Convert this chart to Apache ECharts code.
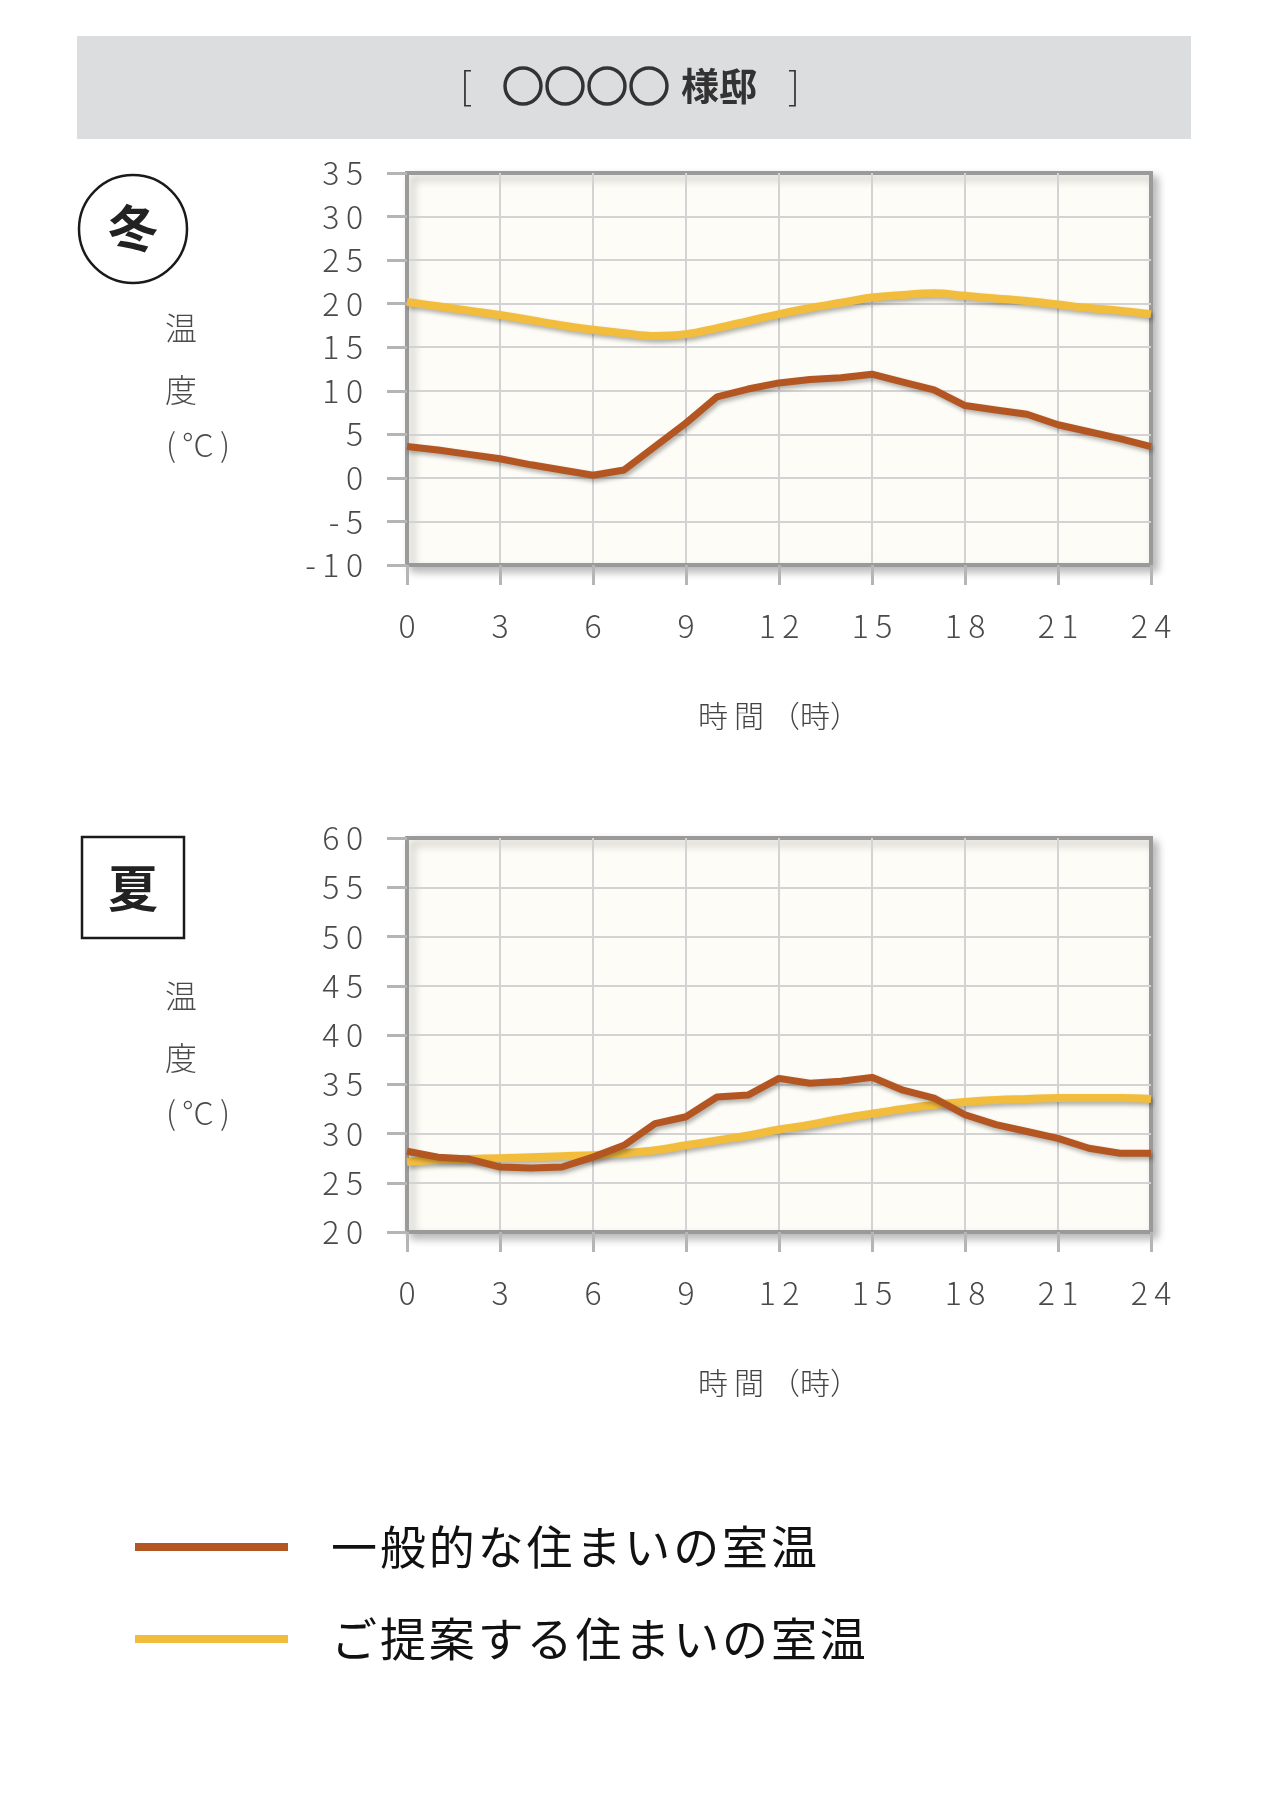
<!DOCTYPE html>
<html>
<head>
<meta charset="utf-8">
<script src="https://cdn.jsdelivr.net/npm/echarts@6/dist/echarts.min.js"></script>
<style>
html,body{margin:0;padding:0;background:#fff;}
#chart{width:1268px;height:1800px;}
</style>
</head>
<body>
<div id="chart"></div>
<script>
// ---- data ----
const hours = [0,1,2,3,4,5,6,7,8,9,10,11,12,13,14,15,16,17,18,19,20,21,22,23,24];
const seriesNames = ['一般的な住まいの室温', 'ご提案する住まいの室温'];
const winterGeneral = [3.6,3.2,2.7,2.2,1.5,0.9,0.3,0.9,3.6,6.3,9.3,10.2,10.9,11.3,11.5,11.9,11.0,10.1,8.3,7.8,7.3,6.1,5.3,4.5,3.6];
const winterProposed = [20.2,19.7,19.2,18.7,18.1,17.5,17.0,16.6,16.3,16.5,17.2,18.0,18.8,19.5,20.1,20.7,21.0,21.2,20.9,20.6,20.3,19.9,19.5,19.2,18.8];
const summerGeneral = [28.2,27.6,27.4,26.6,26.5,26.6,27.6,28.8,31.0,31.7,33.7,33.9,35.6,35.1,35.3,35.7,34.4,33.6,31.9,30.9,30.2,29.5,28.5,28.0,28.0];
const summerProposed = [27.1,27.3,27.4,27.5,27.6,27.7,27.8,28.0,28.3,28.8,29.3,29.8,30.4,30.9,31.5,32.0,32.5,32.9,33.2,33.4,33.5,33.6,33.6,33.6,33.5];
const xTicks = {min: 0, max: 24, interval: 3};
const winterTicks = {min: -10, max: 35, interval: 5};
const summerTicks = {min: 20, max: 60, interval: 5};
const titleText = ['[', '○○○○', '様邸', ']'];
const seasonLabels = ['冬', '夏'];
const yAxisTitle = ['温', '度', '(\u2009°C\u2009)'];
const xAxisTitle = '時\u2009間\u2009（時）';

// ---- styling ----
const FONT = '"Noto Sans CJK JP", "Noto Sans", sans-serif';
const BROWN = '#b35622';
const YELLOW = '#f2bd3c';
const spaced = (s, sp) => String(s).split('').join(sp);
const pairs = vals => hours.map((h, i) => [h, vals[i]]);

function makeX(idx) {
  return {
    type: 'value', gridIndex: idx,
    min: xTicks.min, max: xTicks.max, interval: xTicks.interval,
    name: xAxisTitle, nameLocation: 'middle', nameGap: 136,
    nameTextStyle: {fontFamily: FONT, fontSize: 30, fontWeight: 300, color: '#444'},
    axisLine: {show: true, onZero: false, lineStyle: {color: '#9a9a9a', width: 4}},
    axisTick: {show: true, inside: false, length: 20, lineStyle: {color: '#b5b5b5', width: 3}},
    axisLabel: {show: true, margin: 45, fontFamily: FONT, fontSize: 32, fontWeight: 300, color: '#4a4a4a',
      formatter: v => spaced(v, '\u2009'), showMinLabel: true, showMaxLabel: true},
    splitLine: {show: true, showMinLine: false, showMaxLine: false, lineStyle: {color: '#d3d3d3', width: 2}}
  };
}
function makeY(idx, t) {
  return {
    type: 'value', gridIndex: idx,
    min: t.min, max: t.max, interval: t.interval,
    axisLine: {show: true, onZero: false, lineStyle: {color: '#9a9a9a', width: 4}},
    axisTick: {show: true, inside: false, length: 20, lineStyle: {color: '#b5b5b5', width: 3}},
    axisLabel: {show: true, margin: 44, fontFamily: FONT, fontSize: 32, fontWeight: 300, color: '#4a4a4a',
      formatter: v => spaced(v, '\u2009'), showMinLabel: true, showMaxLabel: true},
    splitLine: {show: true, showMinLine: false, showMaxLine: false, lineStyle: {color: '#d3d3d3', width: 2}}
  };
}
function makeSeries(name, vals, idx, color, smooth, width) {
  return {
    name: name, type: 'line', xAxisIndex: idx, yAxisIndex: idx,
    data: pairs(vals), symbol: 'none', showSymbol: false, smooth: smooth,
    color: color, itemStyle: {color: color},
    lineStyle: {color: color, width: width, shadowColor: 'rgba(0,0,0,0.3)', shadowBlur: 4, shadowOffsetX: 2, shadowOffsetY: 3},
    emphasis: {disabled: true}, animation: false
  };
}
const gridCommon = {
  show: true, backgroundColor: '#fdfcf6', borderColor: '#9a9a9a', borderWidth: 4,
  shadowColor: 'rgba(0,0,0,0.25)', shadowBlur: 8, shadowOffsetX: 5, shadowOffsetY: 5,
  containLabel: false, outerBoundsMode: 'none'
};
function txt(text, x, y, size, weight, color, strokeW) {
  const style = {text: text, x: x, y: y, fontSize: size, fontWeight: weight, fontFamily: FONT,
    fill: color, align: 'center', verticalAlign: 'middle', textAlign: 'center', textVerticalAlign: 'middle'};
  if (strokeW) { style.stroke = color; style.lineWidth = strokeW; }
  return {type: 'text', z: 10, style: style};
}

const option = {
  backgroundColor: '#ffffff',
  animation: false,
  grid: [
    Object.assign({left: 407, top: 173, width: 744, height: 392}, gridCommon),
    Object.assign({left: 407, top: 838, width: 744, height: 394}, gridCommon)
  ],
  xAxis: [makeX(0), makeX(1)],
  yAxis: [makeY(0, winterTicks), makeY(1, summerTicks)],
  legend: {
    show: true, orient: 'vertical', left: 130, top: 1519,
    itemWidth: 153, itemHeight: 8, itemGap: 46, icon: 'rect',
    data: seriesNames,
    formatter: n => spaced(n, '\u200a'),
    textStyle: {fontFamily: FONT, fontSize: 46, fontWeight: 400, color: '#111', padding: [0, 0, 0, 38]},
    selectedMode: false
  },
  series: [
    makeSeries(seriesNames[1], winterProposed, 0, YELLOW, 0.4, 8),
    makeSeries(seriesNames[0], winterGeneral, 0, BROWN, false, 7),
    makeSeries(seriesNames[1], summerProposed, 1, YELLOW, 0.4, 8),
    makeSeries(seriesNames[0], summerGeneral, 1, BROWN, false, 7)
  ],
  graphic: [
    {type: 'rect', z: 0, shape: {x: 77, y: 36, width: 1114, height: 103}, style: {fill: '#dcdddf'}},
    txt(titleText[0], 466, 86, 38, 300, '#333'),
    txt(titleText[1], 586, 86, 42, 700, '#333', 1.6),
    txt(titleText[2], 719, 86, 38, 700, '#333'),
    txt(titleText[3], 794, 86, 38, 300, '#333'),
    {type: 'circle', z: 10, shape: {cx: 133, cy: 229, r: 54}, style: {fill: 'none', stroke: '#1a1a1a', lineWidth: 2.5}},
    txt(seasonLabels[0], 133, 228, 50, 700, '#222'),
    txt(yAxisTitle[0], 181, 328, 32, 300, '#4a4a4a'),
    txt(yAxisTitle[1], 181, 390, 32, 300, '#4a4a4a'),
    txt(yAxisTitle[2], 198, 445, 32, 300, '#4a4a4a'),
    {type: 'rect', z: 10, shape: {x: 82, y: 837, width: 102, height: 101}, style: {fill: 'none', stroke: '#1a1a1a', lineWidth: 2.5}},
    txt(seasonLabels[1], 133, 888, 50, 700, '#222'),
    txt(yAxisTitle[0], 181, 996, 32, 300, '#4a4a4a'),
    txt(yAxisTitle[1], 181, 1058, 32, 300, '#4a4a4a'),
    txt(yAxisTitle[2], 198, 1113, 32, 300, '#4a4a4a')
  ]
};
const chart = echarts.init(document.getElementById('chart'), null, {renderer: 'canvas', width: 1268, height: 1800});
chart.setOption(option);
</script>
</body>
</html>
